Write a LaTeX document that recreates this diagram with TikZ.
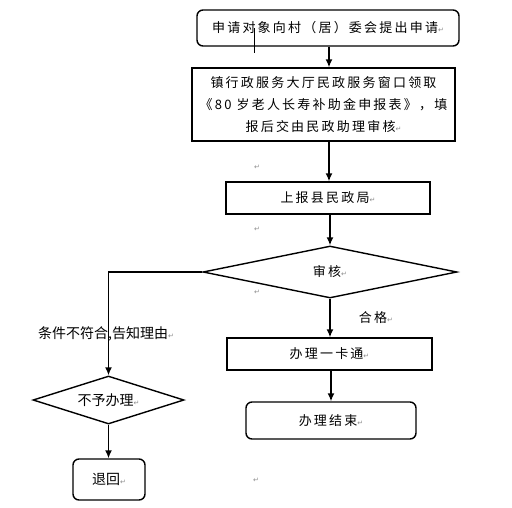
\documentclass[tikz,border=0pt]{standalone}
\usepackage{fontspec}
\setmainfont{Noto Sans CJK SC}
\newfontfamily\wideCJK[LetterSpace=17]{Noto Sans CJK SC}
\newfontfamily\markfont{DejaVu Sans}
\usetikzlibrary{arrows.meta,shapes.geometric}
\newcommand\pmark{{\markfont\color{black!45}\fontsize{7}{7}\selectfont ↵}}
\tikzset{
  >=Latex,
  stepbox/.style={draw, line width=1.4pt, align=center, inner sep=0pt,
    font=\wideCJK\fontsize{13}{22}\selectfont},
  roundbox/.style={stepbox, rounded corners=6pt},
  check/.style={draw, diamond, line width=1.4pt, inner sep=0pt,
    font=\wideCJK\fontsize{13}{22}\selectfont},
  sidebox/.style={draw, rounded corners=6pt, line width=1.4pt, inner sep=0pt,
    font=\fontsize{14}{16}\selectfont},
  sidecheck/.style={draw, diamond, line width=1.4pt, inner sep=0pt,
    font=\fontsize{14}{16}\selectfont},
  note/.style={inner sep=0pt, font=\fontsize{14}{16}\selectfont},
  pnote/.style={inner sep=0pt},
  arr/.style={-{Latex[length=8pt,width=7pt]}, line width=1.4pt}
}

\begin{document}
\begin{tikzpicture}[x=1pt,y=-1pt]
\useasboundingbox (0,0) rectangle (512,507);

% main column
\node[roundbox, minimum width=262pt, minimum height=36pt] (apply) at (328,28)
  {申请对象向村（居）委会提出申请\pmark};
\node[stepbox, minimum width=263pt, minimum height=73pt] (form) at (323.5,104.5)
  {镇行政服务大厅民政服务窗口领取\\《80 岁老人长寿补助金申报表》，填\\报后交由民政助理审核\pmark};
\node[stepbox, minimum width=204pt, minimum height=32pt] (county) at (328,198)
  {上报县民政局\pmark};
\node[check, minimum width=254pt, minimum height=52pt, aspect=4.9] (review) at (330,272)
  {审核\pmark};
\node[stepbox, minimum width=205pt, minimum height=32pt] (card) at (329.5,354)
  {办理一卡通\pmark};
\node[roundbox, minimum width=170pt, minimum height=37pt] (done) at (331,420.5)
  {办理结束\pmark};
\node[note, font=\wideCJK\fontsize{13}{16}\selectfont] (pass) at (376,318) {合格\pmark};

% rejection branch
\node[sidecheck, minimum width=151pt, minimum height=48pt, aspect=3.15] (refuse) at (108.5,400)
  {不予办理\pmark};
\node[sidebox, minimum width=72pt, minimum height=41pt] (back) at (109,479.5)
  {退回\pmark};
\node[note] (reason) at (106,334) {条件不符合,告知理由\pmark};

% stray paragraph marks
\node[pnote] (m1) at (257,167) {\pmark};
\node[pnote] (m2) at (257,229) {\pmark};
\node[pnote] (m3) at (257,292) {\pmark};
\node[pnote] (m4) at (256,480) {\pmark};
\draw[line width=1pt] (254,28) -- (254,53);

\draw[arr] (apply.south -| 329,0) -- (form.north -| 329,0);
\draw[arr] (form.south -| 329,0) -- (county.north -| 329,0);
\draw[arr] (county.south -| review) -- (review.north);
\draw[arr] (review.south) -- (card.north -| review);
\draw[arr] (card.south -| 331,0) -- (done.north -| 331,0);
\draw[arr] (review.west) -| (refuse.north);
\draw[arr] (refuse.south) -- (back.north -| refuse);

\end{tikzpicture}
\end{document}
